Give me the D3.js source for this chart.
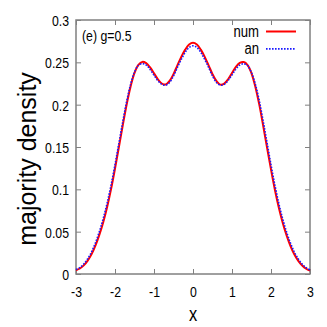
<!DOCTYPE html>
<html>
<head>
<meta charset="utf-8">
<script src="https://cdn.jsdelivr.net/npm/d3@7"></script>
<style>
  body { margin: 0; background: #fff; }
  text { font-family: 'Liberation Sans', Arial, sans-serif; }
</style>
</head>
<body>
<svg id="chart" width="327" height="327"></svg>
<script>
// x grid of the density profile
const xs = [-3.0, -2.9, -2.8, -2.7, -2.6, -2.5, -2.4, -2.3, -2.2, -2.1,
  -2.0, -1.9, -1.8, -1.7, -1.6, -1.5, -1.4, -1.3, -1.2, -1.1,
  -1.0, -0.9, -0.8, -0.7, -0.6, -0.5, -0.4, -0.3, -0.2, -0.1,
  0.0, 0.1, 0.2, 0.3, 0.4, 0.5, 0.6, 0.7, 0.8, 0.9,
  1.0, 1.1, 1.2, 1.3, 1.4, 1.5, 1.6, 1.7, 1.8, 1.9,
  2.0, 2.1, 2.2, 2.3, 2.4, 2.5, 2.6, 2.7, 2.8, 2.9, 3.0];

// numerical result
const num = [0.0045, 0.0065, 0.0102, 0.0158, 0.0235, 0.0338, 0.0465, 0.0615, 0.0795, 0.1005,
  0.1245, 0.1500, 0.1760, 0.2005, 0.2215, 0.2375, 0.2470, 0.2505, 0.2490, 0.2440,
  0.2370, 0.2300, 0.2250, 0.2238, 0.2280, 0.2360, 0.2465, 0.2565, 0.2650, 0.2710,
  0.2730, 0.2710, 0.2650, 0.2565, 0.2465, 0.2360, 0.2280, 0.2237, 0.2249, 0.2300,
  0.2374, 0.2446, 0.2494, 0.2503, 0.2468, 0.2370, 0.2210, 0.2000, 0.1750, 0.1490,
  0.1235, 0.0995, 0.0785, 0.0605, 0.0455, 0.0330, 0.0230, 0.0155, 0.0100, 0.0062, 0.0040];

// analytical result
const an = [0.0052, 0.0076, 0.0118, 0.0180, 0.0262, 0.0370, 0.0502, 0.0658, 0.0840, 0.1052,
  0.1290, 0.1545, 0.1800, 0.2040, 0.2240, 0.2385, 0.2465, 0.2485, 0.2468, 0.2415,
  0.2348, 0.2284, 0.2240, 0.2230, 0.2262, 0.2340, 0.2440, 0.2535, 0.2618, 0.2675,
  0.2695, 0.2675, 0.2618, 0.2535, 0.2440, 0.2340, 0.2262, 0.2230, 0.2240, 0.2286,
  0.2352, 0.2420, 0.2468, 0.2483, 0.2462, 0.2380, 0.2240, 0.2045, 0.1805, 0.1548,
  0.1290, 0.1048, 0.0835, 0.0650, 0.0495, 0.0365, 0.0258, 0.0178, 0.0117, 0.0074, 0.0048];

const xTicks = [-3, -2, -1, 0, 1, 2, 3];
const yTicks = [0, 0.05, 0.1, 0.15, 0.2, 0.25, 0.3];

const margin = { top: 20, right: 17, bottom: 53, left: 76 };
const svg = d3.select('#chart');
const width = +svg.attr('width') - margin.left - margin.right;
const height = +svg.attr('height') - margin.top - margin.bottom;
const g = svg.append('g').attr('transform', `translate(${margin.left},${margin.top})`);

const x = d3.scaleLinear().domain([-3, 3]).range([0, width]);
const y = d3.scaleLinear().domain([0, 0.3]).range([height, 0]);

const axisColor = '#808080';
const tickFont = 15;
const narrow = 0.82; // squeeze to mimic a narrow sans face

const styleAxis = sel => {
  sel.select('.domain').remove();
  sel.selectAll('.tick line').attr('stroke', axisColor);
  sel.selectAll('.tick text')
    .attr('fill', '#000')
    .style('font-family', "'Liberation Sans', Arial, sans-serif")
    .style('font-size', tickFont + 'px');
};

g.append('g')
  .attr('transform', `translate(0,${height})`)
  .call(d3.axisBottom(x).tickValues(xTicks).tickSize(-5).tickPadding(12).tickFormat(d => String(d)))
  .call(styleAxis)
  .call(a => a.selectAll('.tick text').attr('transform', `scale(${narrow},1)`));

g.append('g')
  .call(d3.axisTop(x).tickValues(xTicks).tickSize(-5).tickFormat(''))
  .call(styleAxis);

g.append('g')
  .call(d3.axisLeft(y).tickValues(yTicks).tickSize(-5).tickFormat(d => String(d)))
  .call(styleAxis)
  .call(a => a.selectAll('.tick text')
    .attr('x', -7 / narrow)
    .attr('dy', '0.36em')
    .attr('transform', `scale(${narrow},1)`));

g.append('g')
  .attr('transform', `translate(${width},0)`)
  .call(d3.axisRight(y).tickValues(yTicks).tickSize(-5).tickFormat(''))
  .call(styleAxis);

g.append('rect')
  .attr('width', width)
  .attr('height', height)
  .attr('fill', 'none')
  .attr('stroke', axisColor)
  .attr('stroke-width', 1.5);

const line = data => d3.line()
  .x((d, i) => x(xs[i]))
  .y(d => y(d))
  .curve(d3.curveCatmullRom)(data);

g.append('path')
  .attr('d', line(num))
  .attr('fill', 'none')
  .attr('stroke', '#f00')
  .attr('stroke-width', 2);

g.append('path')
  .attr('d', line(an))
  .attr('fill', 'none')
  .attr('stroke', '#1a1aff')
  .attr('stroke-width', 1.6)
  .attr('stroke-dasharray', '1.6,1.4');

// legend
const legend = [
  { name: 'num', color: '#f00', w: 2, dash: null },
  { name: 'an', color: '#1a1aff', w: 1.6, dash: '1.6,1.4' }
];
const lg = g.selectAll('.legend').data(legend).enter().append('g')
  .attr('transform', (d, i) => `translate(0,${11.5 + i * 17.4})`);
lg.append('text')
  .attr('transform', `translate(183,0)scale(${narrow},1)`)
  .attr('dy', '0.32em')
  .attr('text-anchor', 'end')
  .style('font-size', '16px')
  .text(d => d.name);
lg.append('line')
  .attr('x1', 190).attr('x2', 220)
  .attr('stroke', d => d.color)
  .attr('stroke-width', d => d.w)
  .attr('stroke-dasharray', d => d.dash);

g.append('text')
  .attr('transform', `translate(6,21)scale(${narrow},1)`)
  .style('font-size', '15px')
  .text('(e) g=0.5');

svg.append('text')
  .attr('transform', `translate(${margin.left + width / 2},321)scale(${narrow},1)`)
  .attr('text-anchor', 'middle')
  .style('font-size', '20px')
  .text('x');

svg.append('text')
  .attr('transform', 'translate(36,159)rotate(-90)')
  .attr('text-anchor', 'middle')
  .style('font-size', '25px')
  .text('majority density');
</script>
</body>
</html>
